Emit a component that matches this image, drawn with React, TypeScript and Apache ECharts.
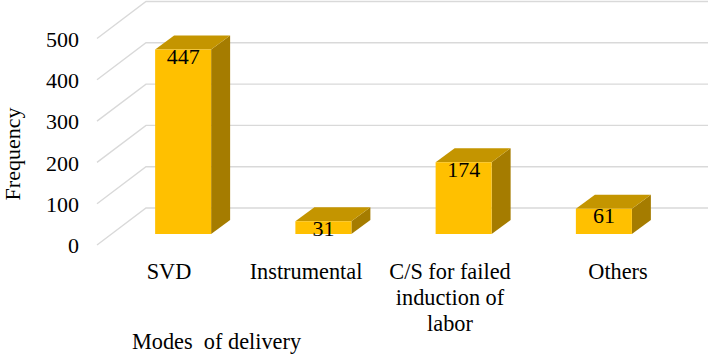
import React, { useEffect, useRef } from "react";
import * as echarts from "echarts";

const categories = ["SVD", "Instrumental", "C/S for failed\ninduction of\nlabor", "Others"];
const frequency = [447, 31, 174, 61];
const gridValues = [0, 100, 200, 300, 400, 500];
const FONT = "'Liberation Serif', serif";

export default function App() {
  const ref = useRef<HTMLDivElement>(null);
  useEffect(() => {
    const chart = echarts.init(ref.current!, undefined, { renderer: "svg" });
    const depthX = 19, depthY = 14, barW = 56;
    const labelCentres = [169, 306, 450, 618];
    chart.setOption({
      animation: false,
      backgroundColor: "#fff",
      grid: [
        { left: 113, right: 38, top: 27.5, bottom: 120 },
        { left: 96, width: 1, top: 39.5, bottom: 108.5 },
      ],
      xAxis: [
        { type: "category", data: categories, gridIndex: 0, show: false },
        { type: "category", data: [""], gridIndex: 1, show: false },
      ],
      yAxis: [
        { type: "value", min: 0, max: 500, interval: 100, gridIndex: 0, show: false },
        {
          type: "value", min: 0, max: 500, interval: 100, gridIndex: 1,
          axisLine: { show: false }, axisTick: { show: false }, splitLine: { show: false },
          axisLabel: { color: "#000", fontFamily: FONT, fontSize: 22, margin: 17 },
        },
      ],
      graphic: [
        { type: "text", x: 132, y: 330.5, style: { text: "Modes  of delivery", fill: "#000", font: `22.3px ${FONT}` } },
        { type: "text", x: 12, y: 154, rotation: Math.PI / 2, style: { text: "Frequency", fill: "#000", font: `22px ${FONT}`, align: "center", verticalAlign: "middle" } },
        ...categories.map((c, i) => ({
          type: "text", x: labelCentres[i], y: 258.5,
          style: { text: c, fill: "#000", font: `22.3px ${FONT}`, lineHeight: 26, align: "center", verticalAlign: "top" },
        })),
      ],
      series: [
        {
          type: "custom", xAxisIndex: 0, yAxisIndex: 0, silent: true, z: 1,
          data: gridValues.map((v) => [0, v]),
          encode: { x: 0, y: 1 },
          renderItem: (_p: any, api: any) => {
            const y = api.coord([0, api.value(1)])[1];
            return {
              type: "polyline",
              shape: { points: [[97, y + 11], [146, y - 26], [708, y - 26]] },
              style: { stroke: "#d9d9d9", lineWidth: 1.4, fill: "none" },
            };
          },
        },
        {
          type: "custom", xAxisIndex: 0, yAxisIndex: 0, silent: true, z: 2,
          data: frequency.map((v, i) => [i, v]),
          encode: { x: 0, y: 1 },
          renderItem: (_p: any, api: any) => {
            const [cx, top] = api.coord([api.value(0), api.value(1)]);
            const bottom = api.coord([api.value(0), 0])[1];
            const l = cx - barW / 2, r = cx + barW / 2;
            return {
              type: "group",
              children: [
                { type: "polygon", shape: { points: [[r, top], [r + depthX, top - depthY], [r + depthX, bottom - depthY], [r, bottom]] }, style: { fill: "#a57c00" } },
                { type: "polygon", shape: { points: [[l, top], [l + depthX, top - depthY], [r + depthX, top - depthY], [r, top]] }, style: { fill: "#c49500" } },
                { type: "rect", shape: { x: l, y: top, width: barW, height: bottom - top }, style: { fill: "#ffc000" } },
                { type: "text", x: cx, y: top + 7, style: { text: String(api.value(1)), fill: "#000", font: `22px ${FONT}`, align: "center", verticalAlign: "middle" }, z2: 5 },
              ],
            };
          },
        },
      ],
    });
    return () => chart.dispose();
  }, []);
  return <div ref={ref} style={{ width: 712, height: 354, position: "fixed", left: 0, top: 0 }} />;
}
